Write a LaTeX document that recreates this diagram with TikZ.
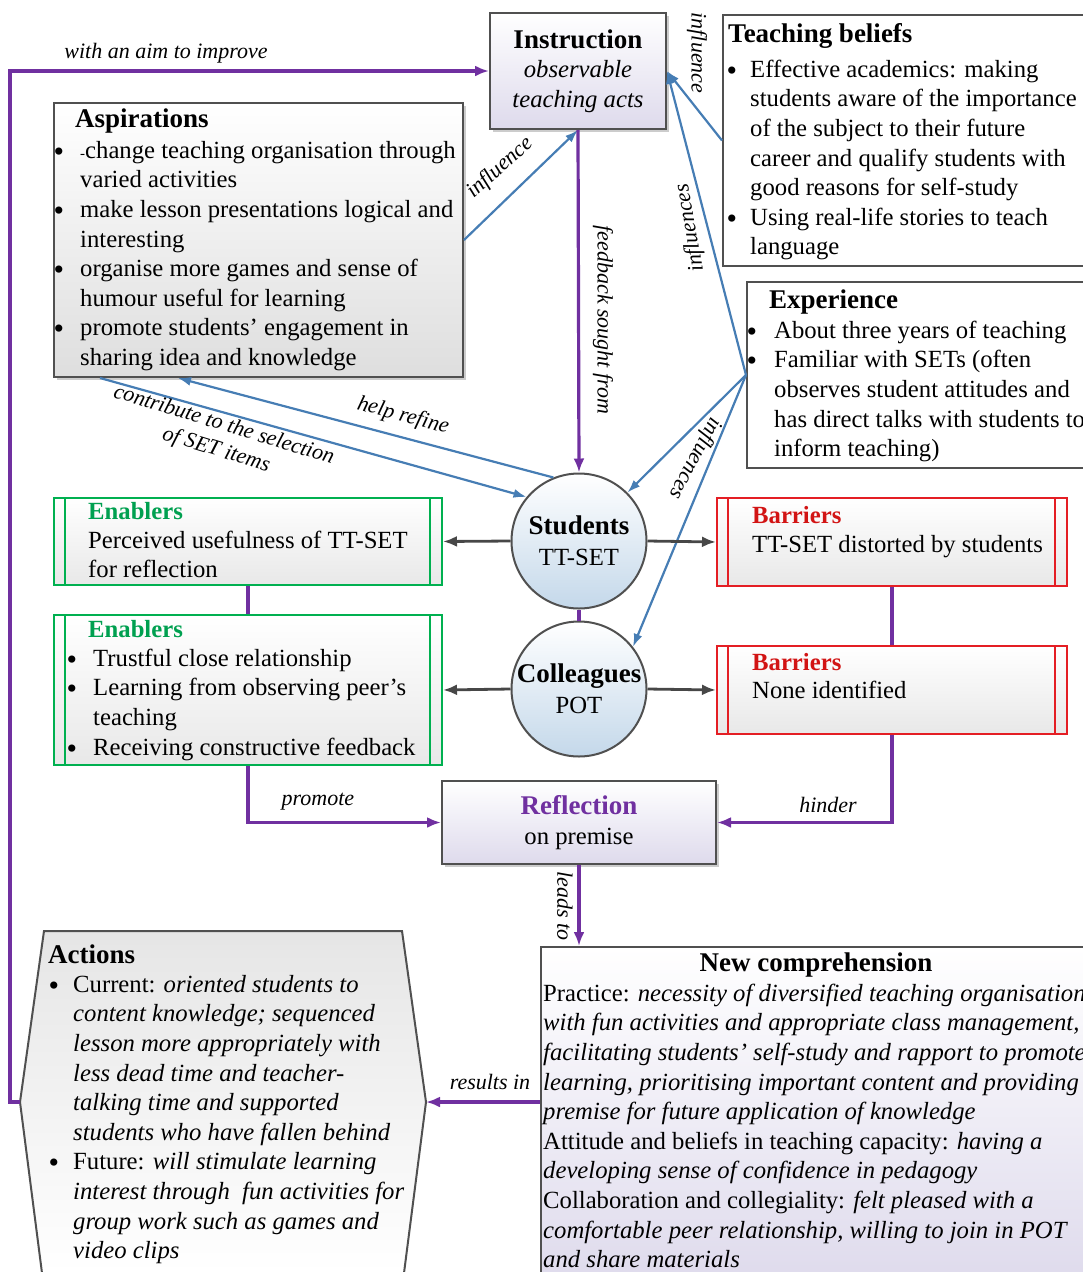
\documentclass[tikz,border=0pt]{standalone}
\usepackage{fontspec}
\setmainfont{Liberation Serif}
\usetikzlibrary{arrows.meta,calc,shadows}

\definecolor{purp}{RGB}{112,48,160}
\definecolor{blu}{RGB}{70,125,180}
\definecolor{grn}{RGB}{0,176,80}
\definecolor{grnt}{RGB}{0,160,80}
\definecolor{rd}{RGB}{228,30,36}
\definecolor{rdt}{RGB}{210,20,20}
\definecolor{edge}{RGB}{80,80,80}
\definecolor{lav}{RGB}{222,218,236}
\definecolor{pale}{RGB}{222,222,222}
\definecolor{skyb}{RGB}{196,216,234}

\newcommand\bodyfont{\fontsize{24.7}{29.6}\selectfont}
\newcommand\headfont{\fontsize{27}{30}\selectfont\bfseries}
\newcommand\subheadfont{\fontsize{24.7}{29.6}\selectfont\bfseries}
\newcommand\labelfont{\fontsize{22}{26}\selectfont\itshape}
% bullet line and continuation line of a hanging list
\newcommand\bitem[2]{\makebox[#1][l]{\raisebox{-3pt}{\fontsize{30}{30}\selectfont\textbullet}}#2}
\newcommand\cont[2]{\hspace*{#1}#2}

\begin{document}
\begin{tikzpicture}[x=1pt,y=-1pt,
  frame/.style={draw=edge, line width=2pt, inner sep=0pt},
  card/.style={frame, anchor=north west},
  shadowed/.style={drop shadow={shadow xshift=3pt, shadow yshift=-3pt, opacity=0.2, fill=black}},
  bars/.style={path picture={\draw[#1, line width=2pt]
      ([xshift=11pt]path picture bounding box.north west) -- ([xshift=11pt]path picture bounding box.south west)
      ([xshift=-12pt]path picture bounding box.north east) -- ([xshift=-12pt]path picture bounding box.south east);}},
  enab/.style={card, draw=grn, top color=white, bottom color=black!9, bars=grn},
  barr/.style={card, draw=rd, top color=white, bottom color=black!9, bars=rd},
  txt/.style={anchor=north west, inner sep=0pt, align=left, font=\bodyfont},
  oneline/.style={anchor=base west, inner sep=0pt, font=\bodyfont},
  head/.style={anchor=base west, inner sep=0pt, font=\headfont},
  subhead/.style={anchor=base west, inner sep=0pt, font=\subheadfont},
  lab/.style={inner sep=0pt, font=\labelfont},
  pline/.style={draw=purp, line width=3.2pt},
  parr/.style={pline, -{Latex[length=14pt,width=11pt]}},
  blarr/.style={draw=blu, line width=2.2pt, -{Latex[length=13pt,width=9pt]}},
  garr/.style={draw=black!72, line width=2.8pt, -{Latex[length=14pt,width=11pt]}},
  person/.style={frame, circle, minimum size=135pt, top color=white, bottom color=skyb, align=center, font=\bodyfont}
]
\useasboundingbox (0,0) rectangle (1082,1272);

% ---------- top row ----------
\node[frame, shadowed, top color=white, bottom color=lav, minimum width=176pt, minimum height=116pt,
      align=center, font=\bodyfont] (instr) at (578,71)
  {{\headfont Instruction}\\ \textit{observable}\\ \textit{teaching acts}};

\node[card, fill=white, minimum width=370pt, minimum height=251pt] (tb) at (722,14) {};
\node[head] (tb-h) at (728,42) {Teaching beliefs};
\node[txt] (tb-b) at (726.4,56.3) {\strut\bitem{23.6pt}{Effective academics: making}\\
  \cont{23.6pt}{students aware of the importance}\\
  \cont{23.6pt}{of the subject to their future}\\
  \cont{23.6pt}{career and qualify students with}\\
  \cont{23.6pt}{good reasons for self-study}\\
  \bitem{23.6pt}{Using real-life stories to teach}\\
  \cont{23.6pt}{language}};

\node[card, shadowed, top color=white, bottom color=pale, minimum width=409pt, minimum height=274pt] (asp) at (53,102) {};
\node[head] (asp-h) at (75,127) {Aspirations};
\node[txt] (asp-b) at (53.4,137.3) {\strut\bitem{26.6pt}{{\fontsize{15}{15}\selectfont -}change teaching organisation through}\\
  \cont{26.6pt}{varied activities}\\
  \bitem{26.6pt}{make lesson presentations logical and}\\
  \cont{26.6pt}{interesting}\\
  \bitem{26.6pt}{organise more games and sense of}\\
  \cont{26.6pt}{humour useful for learning}\\
  \bitem{26.6pt}{promote students’ engagement in}\\
  \cont{26.6pt}{sharing idea and knowledge}};

\node[card, fill=white, minimum width=350pt, minimum height=186pt] (exp) at (746,281) {};
\node[head] (exp-h) at (769,308) {Experience};
\node[txt] (exp-b) at (746.4,317.3) {\strut\bitem{27.6pt}{About three years of teaching}\\
  \bitem{27.6pt}{Familiar with SETs (often}\\
  \cont{27.6pt}{observes student attitudes and}\\
  \cont{27.6pt}{has direct talks with students to}\\
  \cont{27.6pt}{inform teaching)}};

% ---------- sources of feedback ----------
\node[person] (stu) at (579,541) {{\headfont Students}\\[1pt] TT-SET};
\node[person] (col) at (579,689) {{\headfont Colleagues}\\[1pt] POT};

\node[enab, minimum width=388pt, minimum height=87pt] (en1) at (53,497) {};
\node[subhead, text=grnt] (en1-h) at (88,519) {Enablers};
\node[txt] (en1-b) at (88,527.3) {\strut Perceived usefulness of TT-SET\\ for reflection};

\node[enab, minimum width=388pt, minimum height=150pt] (en2) at (53,614) {};
\node[subhead, text=grnt] (en2-h) at (88,637) {Enablers};
\node[txt] (en2-b) at (66.4,645.3) {\strut\bitem{26.6pt}{Trustful close relationship}\\
  \bitem{26.6pt}{Learning from observing peer’s}\\
  \cont{26.6pt}{teaching}\\
  \bitem{26.6pt}{Receiving constructive feedback}};

\node[barr, minimum width=350pt, minimum height=88pt] (ba1) at (716,497) {};
\node[subhead, text=rdt] (ba1-h) at (752,523) {Barriers};
\node[oneline] (ba1-b) at (752,552) {TT-SET distorted by students};

\node[barr, minimum width=350pt, minimum height=88pt] (ba2) at (716,645) {};
\node[subhead, text=rdt] (ba2-h) at (752,670) {Barriers};
\node[oneline] (ba2-b) at (752,698) {None identified};

% ---------- reflection and outcomes ----------
\node[frame, shadowed, top color=white, bottom color=lav, minimum width=274pt, minimum height=83pt,
      align=center, font=\bodyfont] (refl) at (579,822.5)
  {{\headfont\color{purp}Reflection}\\[1pt] on premise};

\node[card, top color=white, bottom color=lav, minimum width=560pt, minimum height=340pt] (nc) at (540,946) {};
\node[inner sep=0pt, anchor=base, font=\headfont] (nc-h) at (816,971) {New comprehension};
\node[txt] (nc-b) at (543,980.3) {\strut Practice: \textit{necessity of diversified teaching organisation}\\
  \textit{with fun activities and appropriate class management,}\\
  \textit{facilitating students’ self-study and rapport to promote}\\
  \textit{learning, prioritising important content and providing}\\
  \textit{premise for future application of knowledge}\\
  Attitude and beliefs in teaching capacity: \textit{having a}\\
  \textit{developing sense of confidence in pedagogy}\\
  Collaboration and collegiality: \textit{felt pleased with a}\\
  \textit{comfortable peer relationship, willing to join in POT}\\
  \textit{and share materials}};

\path[draw=edge, line width=2pt, top color=black!10, bottom color=white]
  (44,931) -- (402,931) -- (426,1102) -- (404,1273) -- (42,1273) -- (20,1102) -- cycle;
\coordinate (act-r) at (426,1102);
\coordinate (act-l) at (20,1102);
\node[head] (act-h) at (48,963) {Actions};
\node[txt] (act-b) at (48.4,971.3) {\strut\bitem{24.6pt}{Current: \textit{oriented students to}}\\
  \cont{24.6pt}{\textit{content knowledge; sequenced}}\\
  \cont{24.6pt}{\textit{lesson more appropriately with}}\\
  \cont{24.6pt}{\textit{less dead time and teacher-}}\\
  \cont{24.6pt}{\textit{talking time and supported}}\\
  \cont{24.6pt}{\textit{students who have fallen behind}}\\
  \bitem{24.6pt}{Future: \textit{will stimulate learning}}\\
  \cont{24.6pt}{\textit{interest through\ \ fun activities for}}\\
  \cont{24.6pt}{\textit{group work such as games and}}\\
  \cont{24.6pt}{\textit{video clips}}};

% ---------- connectors ----------
\draw[parr] (act-l) -- ++(-10,0) |- (instr.west);
\draw[blarr] (asp.east) -- (instr.south);
\draw[blarr] (tb.west) -- (instr.east);
\draw[blarr] (exp.west) -- (instr.east);
\draw[blarr] (exp.west) -- (stu.45);
\draw[blarr] (exp.west) -- (col.38);
\draw[blarr] (stu.112) -- ($(asp.south west)+(125,0)$);
\draw[blarr] ($(asp.south west)+(47,0)$) -- (stu.140);
\draw[parr] (instr.south) -- (stu.north);
\draw[pline] (stu.south) -- (col.north);
\draw[garr] (stu.west) -- (en1.east);
\draw[garr] (stu.east) -- (ba1.west);
\draw[garr] (col.west) -- (en2.east);
\draw[garr] (col.east) -- (ba2.west);
\draw[pline] (en1.south) -- (en2.north);
\draw[pline] (ba1.south) -- (ba2.north);
\draw[parr] (en2.south) |- (refl.west);
\draw[parr] (ba2.south) |- (refl.east);
\draw[parr] (refl.south) -- (refl.south |- nc.north);
\draw[parr] (nc.west |- act-r) -- (act-r);

% ---------- connector labels ----------
\node[lab] (l-aim) at (166,53) {with an aim to improve};
\node[lab, rotate=42] (l-inf1) at (500,168) {influence};
\node[lab, rotate=-90] (l-inf2) at (697,53) {influence};
\node[lab, rotate=-90] (l-fb) at (603,320) {feedback sought from};
\node[lab, rotate=100] (l-inf3) at (690,228) {influences};
\node[lab, rotate=-118] (l-inf4) at (695,458) {influences};
\node[lab, rotate=-15] (l-help) at (403,416) {help refine};
\node[lab, rotate=-17, align=center] (l-contr) at (220,438) {contribute to the selection\\ of SET items};
\node[lab] (l-prom) at (318,802) {promote};
\node[lab] (l-hind) at (828,805) {hinder};
\node[lab, rotate=-90] (l-lead) at (565,906) {leads to};
\node[lab] (l-res) at (490,1082) {results in};
\end{tikzpicture}
\end{document}
